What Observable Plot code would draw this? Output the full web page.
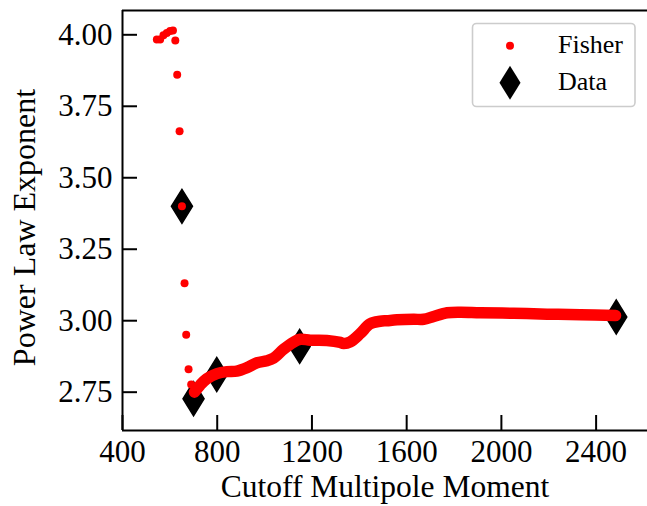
<!DOCTYPE html>
<html>
<head>
<meta charset="utf-8">
<script src="https://cdn.jsdelivr.net/npm/d3@7"></script>
<script src="https://cdn.jsdelivr.net/npm/@observablehq/plot@0.6"></script>
<style>
  html, body { margin: 0; padding: 0; background: #fff; }
  #chart { position: relative; width: 647px; height: 506px; }
  #chart svg { display: block; }
</style>
</head>
<body>
<div id="chart"></div>
<script>
// Fisher forecast: isolated points near the low cutoff
const fisherX = [545, 559, 573, 587, 601, 613, 623, 631, 641, 651, 662, 669, 679, 690];
const fisherY = [3.984, 3.984, 3.998, 4.006, 4.013, 4.015, 3.980, 3.860, 3.663, 3.400, 3.131, 2.951, 2.830, 2.777];

// Fisher forecast: dense run of points from ~700 up to ~2480
const curveX = [704, 728, 756, 799, 841, 883, 926, 968, 1010, 1038, 1080, 1122, 1151, 1193, 1263, 1320, 1334, 1362, 1404, 1446, 1488, 1517, 1559, 1629, 1672, 1714, 1771, 1827, 1911, 2052, 2193, 2334, 2482];
const curveY = [2.750, 2.775, 2.797, 2.815, 2.822, 2.824, 2.836, 2.853, 2.860, 2.869, 2.900, 2.925, 2.935, 2.932, 2.931, 2.924, 2.920, 2.926, 2.955, 2.989, 2.998, 3.000, 3.003, 3.005, 3.005, 3.015, 3.028, 3.030, 3.028, 3.026, 3.023, 3.021, 3.018];

// Measured exponents
const dataX = [651, 700, 798, 1148, 2485];
const dataY = [3.400, 2.727, 2.812, 2.910, 3.013];

const xTicks = [400, 800, 1200, 1600, 2000, 2400];
const yTicks = [2.75, 3.00, 3.25, 3.50, 3.75, 4.00];
const xDomain = [400, 2617];
const yDomain = [2.616, 4.085];

const xLabel = "Cutoff Multipole Moment";
const yLabel = "Power Law Exponent";
const seriesNames = ["Fisher", "Data"];

const font = "Liberation Serif, Times New Roman, serif";

// Tall, narrow diamond marker
const thinDiamond = {
  draw(ctx, size) {
    const h = Math.sqrt(size / Math.PI);
    const w = h * 0.62;
    ctx.moveTo(0, -h);
    ctx.lineTo(w, 0);
    ctx.lineTo(0, h);
    ctx.lineTo(-w, 0);
    ctx.closePath();
  }
};

const fisherPts = fisherX.map((x, i) => ({x, y: fisherY[i]}));
const curvePts = curveX.map((x, i) => ({x, y: curveY[i]}));
const dataPts = dataX.map((x, i) => ({x, y: dataY[i]}));

const plot = Plot.plot({
  width: 647,
  height: 506,
  marginLeft: 122,
  marginRight: 0,
  marginTop: 10,
  marginBottom: 76,
  style: {fontFamily: font, fontSize: "31px", color: "black", background: "white"},
  x: {domain: xDomain},
  y: {domain: yDomain},
  marks: [
    // inward tick marks
    Plot.axisX(xTicks, {tickSize: 15, dy: -15, tickFormat: () => "", strokeWidth: 2, label: null}),
    Plot.axisY(yTicks, {tickSize: 15, dx: 15, tickFormat: () => "", strokeWidth: 2, label: null}),
    // tick labels
    Plot.axisX(xTicks, {tickSize: 0, tickPadding: 9, fontSize: 31, tickFormat: d3.format("d"), label: null}),
    Plot.axisY(yTicks, {tickSize: 0, tickPadding: 10, fontSize: 31, tickFormat: d3.format(".2f"), label: null}),
    // spines
    Plot.ruleY([yDomain[0], yDomain[1]], {stroke: "black", strokeWidth: 2}),
    Plot.ruleX([xDomain[0]], {stroke: "black", strokeWidth: 2}),
    // measured points
    Plot.dot(dataPts, {x: "x", y: "y", symbol: thinDiamond, r: 17, fill: "black", stroke: "black"}),
    // Fisher forecast
    Plot.line(curvePts, {x: "x", y: "y", stroke: "red", strokeWidth: 11.5, strokeLinecap: "round", strokeLinejoin: "round", curve: "catmull-rom"}),
    Plot.dot(fisherPts, {x: "x", y: "y", r: 4, fill: "red"}),
    // axis titles
    Plot.text([xLabel], {text: d => d, frameAnchor: "bottom", textAnchor: "middle", lineAnchor: "middle", dy: 56, fontSize: 31.5}),
    Plot.text([yLabel], {text: d => d, frameAnchor: "left", textAnchor: "middle", lineAnchor: "middle", rotate: -90, dx: -98, dy: 7, fontSize: 32})
  ]
});

document.getElementById("chart").appendChild(plot);

// Legend box in the upper right of the plot area
const svg = d3.select(plot.tagName.toLowerCase() === "svg" ? plot : plot.querySelector("svg"));
const lg = svg.append("g")
  .attr("font-family", font)
  .attr("font-size", 26)
  .attr("text-anchor", "start");
lg.append("rect")
  .attr("x", 472.5).attr("y", 23.5).attr("width", 162.5).attr("height", 83)
  .attr("rx", 4).attr("fill", "white").attr("fill-opacity", 0.8)
  .attr("stroke", "#cccccc").attr("stroke-width", 1.6);
lg.append("circle").attr("cx", 510).attr("cy", 45.7).attr("r", 4).attr("fill", "red");
lg.append("path")
  .attr("d", d3.symbol(thinDiamond, 17 * 17 * Math.PI)())
  .attr("transform", "translate(510,82.7)")
  .attr("fill", "black");
lg.append("text").attr("x", 558).attr("y", 53).text(seriesNames[0]);
lg.append("text").attr("x", 558).attr("y", 90).text(seriesNames[1]);
</script>
</body>
</html>
